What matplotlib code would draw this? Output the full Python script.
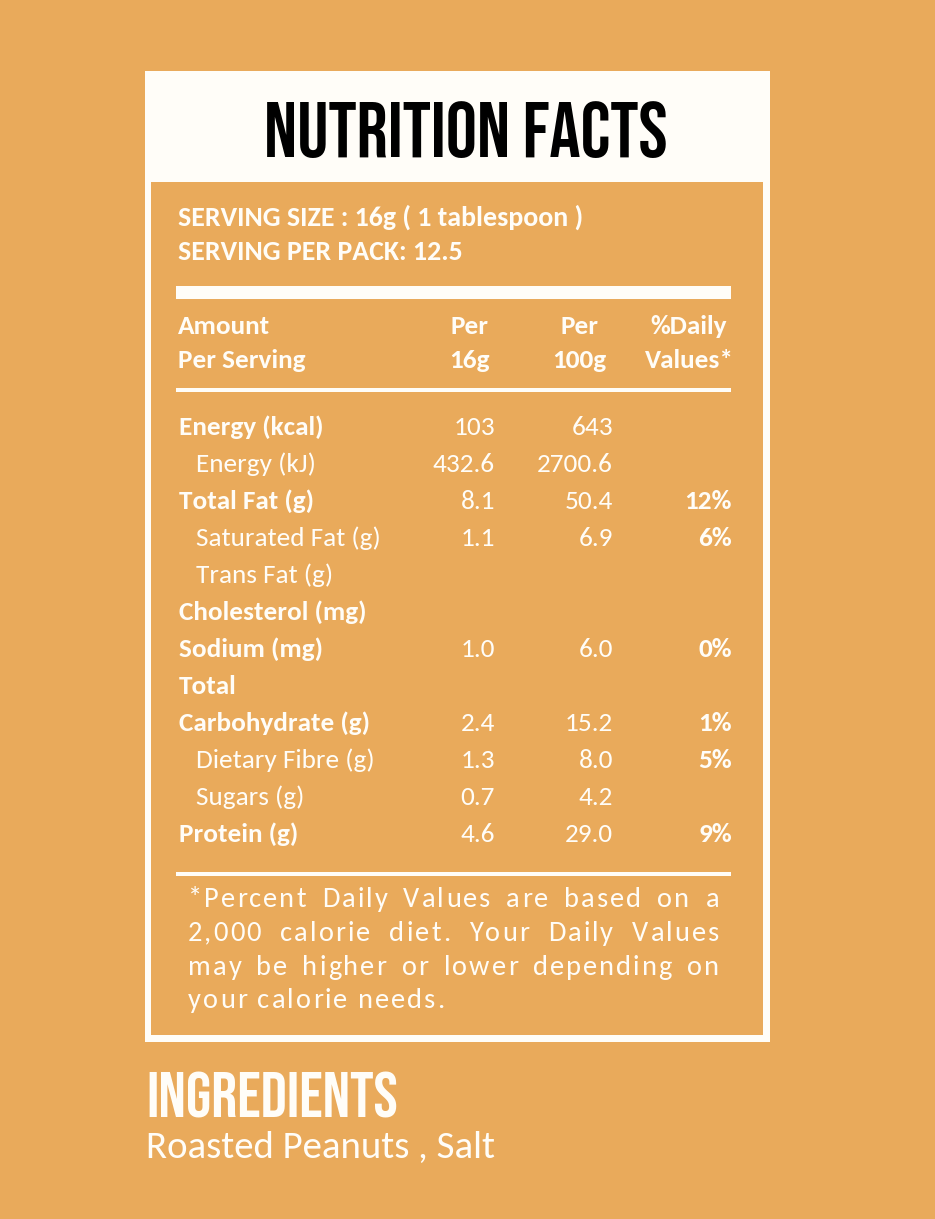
import matplotlib
matplotlib.use("Agg")
import matplotlib.pyplot as plt
from matplotlib.patches import Rectangle

# colours
bg = "#E9AA5B"
cream = "#FFFDF8"

# label data
title = "NUTRITION FACTS"
serving_size = "SERVING SIZE : 16g ( 1 tablespoon )"
serving_pack = "SERVING PER PACK: 12.5"
col_heads = [("Per", "16g"), ("Per", "100g"), ("%Daily", "Values*")]

nutrients = ["Energy (kcal)", "Energy (kJ)", "Total Fat (g)", "Saturated Fat (g)",
             "Trans Fat (g)", "Cholesterol (mg)", "Sodium (mg)", "Total",
             "Carbohydrate (g)", "Dietary Fibre (g)", "Sugars (g)", "Protein (g)"]
level = [0, 1, 0, 1, 1, 0, 0, 0, 0, 1, 1, 0]
per_16g = ["103", "432.6", "8.1", "1.1", "", "", "1.0", "", "2.4", "1.3", "0.7", "4.6"]
per_100g = ["643", "2700.6", "50.4", "6.9", "", "", "6.0", "", "15.2", "8.0", "4.2", "29.0"]
daily = ["", "", "12%", "6%", "", "", "0%", "", "1%", "5%", "", "9%"]

footnote = ["*Percent Daily Values are based on a",
            "2,000 calorie diet. Your Daily Values",
            "may be higher or lower depending on",
            "your calorie needs."]
ingredients = "Roasted Peanuts , Salt"

body = ["Carlito", "Lato", "DejaVu Sans"]
display = ["Bebas Neue", "Oswald", "DejaVu Sans"]

W, H = 935, 1219
fig = plt.figure(figsize=(W / 100, H / 100), dpi=100, facecolor=bg)
ax = fig.add_axes([0, 0, 1, 1])
ax.set_xlim(0, W)
ax.set_ylim(H, 0)
ax.axis("off")
ax.set_facecolor(bg)

# boxes
ax.add_patch(Rectangle((145, 71), 625, 971, facecolor=cream, edgecolor="none"))
ax.add_patch(Rectangle((151, 182), 612, 853, facecolor=bg, edgecolor="none"))

ax.text(466, 157, title, family=display, fontsize=56,
        color="black", ha="center", va="baseline")

fs = 19.6
ax.text(178, 226, serving_size, family=body, weight="bold", fontsize=fs + 0.5,
        color=cream, va="baseline")
ax.text(178, 260, serving_pack, family=body, weight="bold", fontsize=fs + 0.5,
        color=cream, va="baseline")

# rules
ax.add_patch(Rectangle((176, 286), 555, 13, facecolor=cream, edgecolor="none"))
ax.add_patch(Rectangle((176, 388), 555, 3.5, facecolor=cream, edgecolor="none"))
ax.add_patch(Rectangle((176, 872), 555, 3.5, facecolor=cream, edgecolor="none"))

# header
ax.text(178, 334, "Amount", family=body, weight="bold", fontsize=fs,
        color=cream, va="baseline")
ax.text(178, 368, "Per Serving", family=body, weight="bold", fontsize=fs,
        color=cream, va="baseline")
for cx, (a, b) in zip([469, 579, 689], col_heads):
    ax.text(cx, 334, a, family=body, weight="bold", fontsize=fs,
            color=cream, va="baseline", ha="center")
    ax.text(cx, 368, b, family=body, weight="bold", fontsize=fs,
            color=cream, va="baseline", ha="center")

# rows
for i, name in enumerate(nutrients):
    y = 435 + 37 * i
    bold = level[i] == 0
    ax.text(179 if bold else 196, y, name, family=body,
            weight="bold" if bold else "normal", fontsize=fs,
            color=cream, va="baseline")
    ax.text(495, y, per_16g[i], family=body, fontsize=fs, color=cream,
            va="baseline", ha="right")
    ax.text(613, y, per_100g[i], family=body, fontsize=fs, color=cream,
            va="baseline", ha="right")
    ax.text(732, y, daily[i], family=body, weight="bold", fontsize=fs,
            color=cream, va="baseline", ha="right")

# justified, letter-spaced footnote
fig.canvas.draw()
renderer = fig.canvas.get_renderer()
x0, x1 = 188, 719
track = 2.0
ffs = 20.5
probe = ax.text(0, 0, "", family=body, fontsize=ffs)
cache = {}


def char_w(c):
    if c not in cache:
        probe.set_text("x" + c + "x")
        wa = probe.get_window_extent(renderer).width
        probe.set_text("xx")
        wb = probe.get_window_extent(renderer).width
        cache[c] = wa - wb
    return cache[c]


for j, line in enumerate(footnote):
    y = 907 + 33.8 * j
    words = line.split(" ")
    wlens = [sum(char_w(c) + track for c in w) - track for w in words]
    if j < len(footnote) - 1:
        gap = (x1 - x0 - sum(wlens)) / (len(words) - 1)
    else:
        gap = char_w(" ") + 2 * track
    x = x0
    for w, wl in zip(words, wlens):
        cx = x
        for c in w:
            ax.text(cx, y, c, family=body, fontsize=ffs, color=cream,
                    va="baseline")
            cx += char_w(c) + track
        x += wl + gap
probe.remove()

ax.text(146, 1117, "INGREDIENTS", family=display, fontsize=46.5,
        color=cream, va="baseline")
ax.text(146, 1158, ingredients, family=body, fontsize=28, color=cream,
        va="baseline")

fig.savefig("out.png", dpi=100, facecolor=bg)
